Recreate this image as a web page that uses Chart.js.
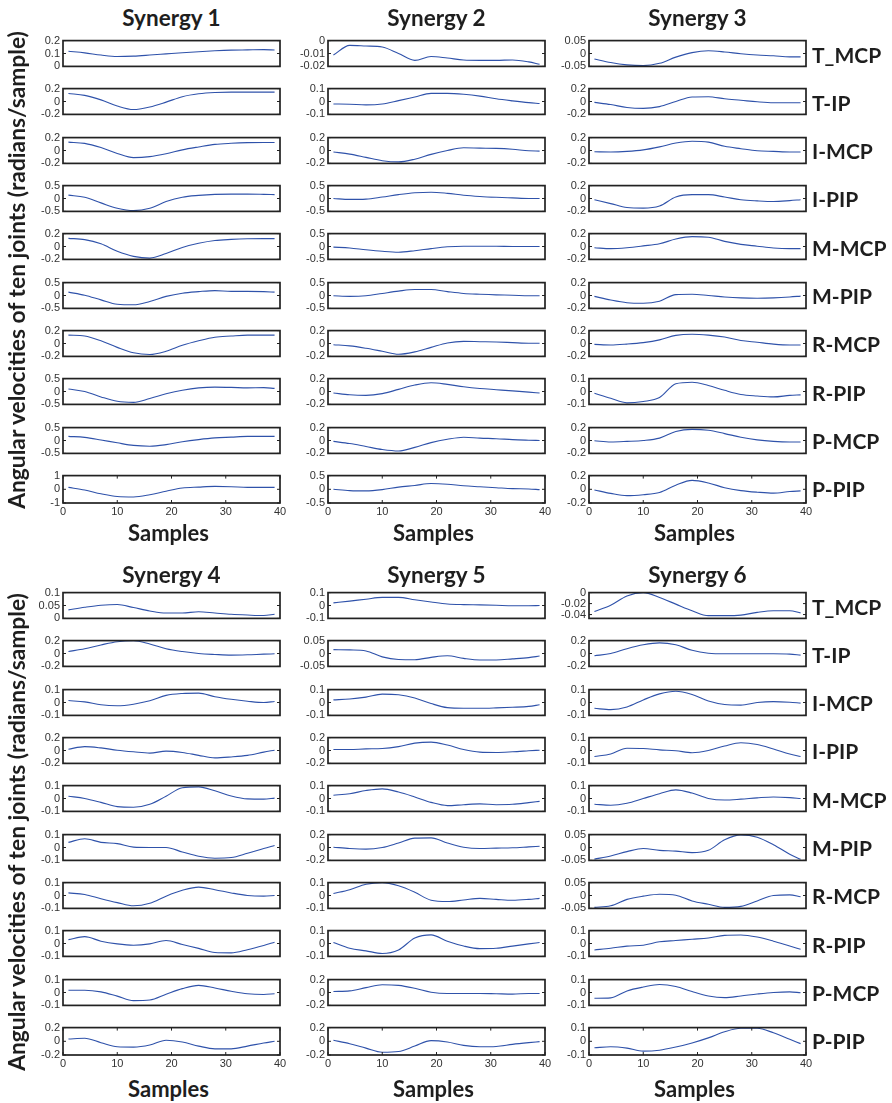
<!DOCTYPE html>
<html><head><meta charset="utf-8">
<script src="https://cdn.jsdelivr.net/npm/chart.js@4.4.1/dist/chart.umd.min.js"></script>
<style>
html,body{margin:0;padding:0;background:#fff;}
#fig{position:relative;width:892px;height:1103px;overflow:hidden;background:#fff;}
.lbl{position:absolute;font-family:Lato,'Open Sans',sans-serif;font-weight:700;color:#1e1e1e;white-space:nowrap;line-height:1;}
canvas{position:absolute;}
</style></head><body><div id="fig"></div>
<script>
// ---------- data ----------
const samples = [1,4,7,10,13,16,19,22,25,28,31,34,37,39];
const xTicks = [0,10,20,30,40];
const synergyTitles = ['Synergy 1','Synergy 2','Synergy 3','Synergy 4','Synergy 5','Synergy 6'];
const joints = ['T_MCP','T-IP','I-MCP','I-PIP','M-MCP','M-PIP','R-MCP','R-PIP','P-MCP','P-PIP'];
const xTitle = 'Samples';
const yTitle = 'Angular velocities of ten joints (radians/sample)';

const synergy1 = [
  [0.117,0.105,0.088,0.077,0.080,0.088,0.097,0.106,0.114,0.121,0.126,0.128,0.130,0.127],
  [0.125,0.095,0.025,-0.07,-0.125,-0.085,-0.01,0.075,0.12,0.14,0.145,0.145,0.145,0.145],
  [0.13,0.11,0.045,-0.045,-0.11,-0.095,-0.05,0.01,0.055,0.095,0.112,0.122,0.125,0.125],
  [0.13,0.05,-0.17,-0.38,-0.47,-0.38,-0.12,0.05,0.12,0.16,0.17,0.17,0.16,0.15],
  [0.126,0.107,0.042,-0.074,-0.153,-0.18,-0.11,-0.014,0.05,0.093,0.11,0.12,0.122,0.122],
  [0.13,0.01,-0.17,-0.34,-0.36,-0.23,-0.035,0.09,0.15,0.19,0.16,0.16,0.15,0.13],
  [0.13,0.116,0.042,-0.06,-0.144,-0.17,-0.12,-0.028,0.042,0.098,0.116,0.13,0.13,0.13],
  [0.1,0,-0.21,-0.38,-0.42,-0.27,-0.09,0.05,0.14,0.17,0.16,0.14,0.15,0.12],
  [0.16,0.12,0.02,-0.09,-0.19,-0.22,-0.16,-0.05,0.035,0.1,0.13,0.16,0.16,0.16],
  [0.14,-0.05,-0.33,-0.53,-0.56,-0.4,-0.14,0.09,0.16,0.21,0.19,0.14,0.14,0.14]
];
const synergy2 = [
  [-0.0112,-0.0037,-0.0042,-0.005,-0.010,-0.0153,-0.0123,-0.0135,-0.015,-0.0153,-0.0153,-0.015,-0.0165,-0.0184],
  [-0.019,-0.021,-0.026,-0.019,0.007,0.035,0.063,0.063,0.056,0.042,0.021,0.005,-0.009,-0.016],
  [-0.023,-0.056,-0.107,-0.158,-0.177,-0.135,-0.06,0,0.042,0.037,0.033,0.019,-0.005,-0.009],
  [0,-0.035,-0.023,0.058,0.15,0.22,0.244,0.2,0.128,0.08,0.047,0.023,0,0],
  [-0.023,-0.058,-0.128,-0.186,-0.22,-0.163,-0.081,-0.012,0.012,0.012,0.012,0,0,0],
  [-0.012,-0.035,-0.012,0.08,0.17,0.23,0.23,0.15,0.08,0.047,0.023,0.012,-0.012,-0.012],
  [-0.019,-0.037,-0.074,-0.12,-0.167,-0.13,-0.06,0.009,0.033,0.028,0.023,0.014,0.005,0.005],
  [-0.023,-0.051,-0.06,-0.033,0.033,0.1,0.135,0.11,0.074,0.047,0.028,0.009,-0.009,-0.023],
  [-0.014,-0.047,-0.093,-0.14,-0.163,-0.107,-0.033,0.019,0.051,0.037,0.028,0.014,0.005,0],
  [0,-0.047,-0.058,-0.012,0.08,0.14,0.21,0.186,0.128,0.093,0.058,0.023,0.012,-0.012]
];
const synergy3 = [
  [-0.021,-0.035,-0.044,-0.047,-0.038,-0.014,0.0035,0.0105,0.006,-0.001,-0.006,-0.009,-0.013,-0.013],
  [-0.014,-0.047,-0.093,-0.107,-0.079,0,0.07,0.074,0.042,0.019,-0.005,-0.019,-0.019,-0.019],
  [-0.019,-0.023,-0.014,0.009,0.056,0.116,0.144,0.13,0.065,0.028,-0.005,-0.014,-0.023,-0.023],
  [-0.019,-0.079,-0.14,-0.149,-0.116,0.023,0.06,0.06,0.023,-0.019,-0.037,-0.047,-0.033,-0.019],
  [-0.019,-0.033,-0.019,0.009,0.042,0.116,0.153,0.144,0.079,0.033,0.005,-0.023,-0.033,-0.033],
  [-0.014,-0.07,-0.112,-0.121,-0.088,0.014,0.019,0,-0.023,-0.037,-0.042,-0.037,-0.023,-0.009],
  [-0.014,-0.023,-0.009,0.014,0.056,0.126,0.144,0.13,0.1,0.047,0.019,-0.009,-0.023,-0.023],
  [-0.014,-0.053,-0.088,-0.077,-0.047,0.06,0.072,0.047,0.009,-0.023,-0.035,-0.042,-0.03,-0.026],
  [-0.005,-0.023,-0.014,0,0.037,0.14,0.172,0.158,0.107,0.051,0.009,-0.014,-0.023,-0.023],
  [-0.009,-0.06,-0.093,-0.079,-0.047,0.06,0.13,0.093,0.023,-0.019,-0.042,-0.056,-0.033,-0.023]
];
const synergy4 = [
  [0.033,0.043,0.051,0.054,0.042,0.029,0.021,0.021,0.026,0.021,0.016,0.013,0.011,0.016],
  [0.03,0.074,0.133,0.183,0.198,0.148,0.074,0.03,0,-0.015,-0.025,-0.02,-0.01,-0.005],
  [0.015,0.005,-0.018,-0.025,-0.013,0.013,0.055,0.07,0.073,0.045,0.025,0.01,0,0.008],
  [0.02,0.06,0.04,0.005,-0.02,-0.04,-0.01,-0.03,-0.075,-0.115,-0.1,-0.075,-0.025,0.005],
  [0.018,0,-0.03,-0.063,-0.068,-0.045,0.018,0.083,0.09,0.06,0.02,-0.003,-0.005,0.003],
  [0.04,0.068,0.04,0.03,0.003,0,0,-0.035,-0.068,-0.083,-0.078,-0.045,-0.008,0.015],
  [0.02,0.008,-0.025,-0.055,-0.08,-0.06,-0.005,0.04,0.065,0.045,0.02,0,-0.005,0],
  [0.03,0.053,0.018,-0.003,-0.013,-0.003,0.023,-0.008,-0.038,-0.07,-0.073,-0.048,-0.015,0.01],
  [0.018,0.018,0.005,-0.028,-0.063,-0.058,-0.013,0.03,0.055,0.035,0.01,-0.01,-0.015,-0.01],
  [0.034,0.044,-0.02,-0.08,-0.085,-0.055,0.015,-0.01,-0.07,-0.11,-0.11,-0.07,-0.025,0]
];
const synergy5 = [
  [0.02,0.034,0.049,0.063,0.063,0.044,0.027,0.012,0.007,0.005,0.002,-0.002,-0.002,0],
  [0.015,0.014,0.01,-0.013,-0.023,-0.024,-0.015,-0.009,-0.019,-0.025,-0.025,-0.021,-0.016,-0.01],
  [0.02,0.027,0.042,0.065,0.06,0.035,-0.008,-0.04,-0.045,-0.045,-0.042,-0.037,-0.03,-0.018],
  [0.015,0.015,0.025,0.03,0.06,0.115,0.13,0.085,0.015,-0.025,-0.03,-0.02,-0.005,0.005],
  [0.025,0.037,0.062,0.075,0.05,0.012,-0.03,-0.055,-0.048,-0.042,-0.048,-0.045,-0.032,-0.022],
  [0.005,-0.015,-0.025,0,0.07,0.145,0.15,0.07,0.005,-0.015,-0.01,-0.005,0.01,0.02],
  [0.015,0.045,0.087,0.1,0.075,0.025,-0.037,-0.047,-0.035,-0.022,-0.03,-0.037,-0.03,-0.022],
  [0.008,-0.037,-0.057,-0.077,-0.05,0.042,0.067,0.017,-0.02,-0.04,-0.037,-0.02,-0.003,0.008],
  [0.015,0.025,0.075,0.12,0.11,0.065,0.005,-0.015,-0.015,-0.015,-0.02,-0.025,-0.015,-0.015],
  [0.015,-0.035,-0.1,-0.16,-0.15,-0.07,0.01,-0.01,-0.06,-0.08,-0.075,-0.045,-0.02,-0.005]
];
const synergy6 = [
  [-0.0346,-0.023,-0.006,0,-0.009,-0.021,-0.033,-0.042,-0.042,-0.041,-0.036,-0.033,-0.033,-0.037],
  [-0.035,0,0.075,0.135,0.165,0.135,0.05,0.005,-0.005,-0.005,-0.005,-0.005,-0.01,-0.025],
  [-0.045,-0.055,-0.035,0.02,0.067,0.087,0.062,0.012,-0.015,-0.02,0,0.007,0.002,-0.005],
  [-0.047,-0.027,0.017,0.015,0.005,-0.002,-0.017,0,0.035,0.06,0.047,0.012,-0.027,-0.047],
  [-0.045,-0.052,-0.037,0,0.037,0.067,0.042,0,-0.012,-0.005,0.005,0.012,0.007,0],
  [-0.045,-0.033,-0.016,-0.004,-0.011,-0.014,-0.02,-0.011,0.03,0.049,0.04,0.011,-0.026,-0.046],
  [-0.046,-0.04,-0.015,-0.0025,0.005,0.001,-0.021,-0.034,-0.046,-0.042,-0.021,0,0.0025,-0.005],
  [-0.05,-0.037,-0.02,-0.013,0.013,0.023,0.033,0.043,0.063,0.066,0.05,0.018,-0.02,-0.045],
  [-0.045,-0.042,0.012,0.042,0.062,0.047,0.007,-0.027,-0.04,-0.027,-0.012,0,0.005,-0.002],
  [-0.047,-0.04,-0.05,-0.072,-0.065,-0.042,-0.012,0.025,0.07,0.095,0.095,0.062,0.015,-0.017]
];

// y tick labels of each subplot (first = axis min, last = axis max)
const ticks1 = [[0,0.1,0.2],[-0.2,0,0.2],[-0.2,0,0.2],[-0.5,0,0.5],[-0.2,0,0.2],[-0.5,0,0.5],[-0.2,0,0.2],[-0.5,0,0.5],[-0.5,0,0.5],[-1,0,1]];
const ticks2 = [[-0.02,-0.01,0],[-0.1,0,0.1],[-0.2,0,0.2],[-0.5,0,0.5],[-0.5,0,0.5],[-0.5,0,0.5],[-0.2,0,0.2],[-0.2,0,0.2],[-0.2,0,0.2],[-0.5,0,0.5]];
const ticks3 = [[-0.05,0,0.05],[-0.2,0,0.2],[-0.2,0,0.2],[-0.2,0,0.2],[-0.2,0,0.2],[-0.2,0,0.2],[-0.2,0,0.2],[-0.1,0,0.1],[-0.2,0,0.2],[-0.2,0,0.2]];
const ticks4 = [[0,0.05,0.1],[-0.2,0,0.2],[-0.1,0,0.1],[-0.2,0,0.2],[-0.1,0,0.1],[-0.1,0,0.1],[-0.1,0,0.1],[-0.1,0,0.1],[-0.1,0,0.1],[-0.2,0,0.2]];
const ticks5 = [[-0.1,0,0.1],[-0.05,0,0.05],[-0.1,0,0.1],[-0.2,0,0.2],[-0.1,0,0.1],[-0.2,0,0.2],[-0.1,0,0.1],[-0.1,0,0.1],[-0.2,0,0.2],[-0.2,0,0.2]];
const ticks6 = [[-0.04,-0.02,0],[-0.2,0,0.2],[-0.1,0,0.1],[-0.1,0,0.1],[-0.1,0,0.1],[-0.05,0,0.05],[-0.05,0,0.05],[-0.1,0,0.1],[-0.1,0,0.1],[-0.1,0,0.1]];
// axis limit where it differs from the outer tick labels: [synergy, row, min, max]
const limitOverrides = [[6, 1, -0.047, 0]];

// ---------- layout ----------
const allSeries = [synergy1, synergy2, synergy3, synergy4, synergy5, synergy6];
const allTicks = [ticks1, ticks2, ticks3, ticks4, ticks5, ticks6];
const GROUP_TOP = [39, 591];
const PITCH = 48.33, PLOT_H = 29, PLOT_W = 217;
const COL_LEFT = [63, 328, 589];
const YAXW = 50, PADT = 8, PADR = 14;
const TITLE_Y = [18, 575], XLABEL_Y = [533, 1089], YLABEL_Y = [270, 832];
const LINE = '#2f52aa', FRAME = '#222222', TICKC = '#333333';
const TICKFONT = "'Liberation Sans', Arial, sans-serif";
const fig = document.getElementById('fig');

function fmt(v){ return String(Number(v.toFixed(4))); }

const framePlugin = {
  id: 'frame',
  afterDraw(chart, args, opts){
    const {ctx, chartArea: a, scales: {x, y}} = chart;
    ctx.save();
    ctx.strokeStyle = FRAME;
    ctx.lineWidth = 1;
    ctx.beginPath();
    y.ticks.forEach(t => {
      const py = y.getPixelForValue(t.value);
      ctx.moveTo(a.left, py); ctx.lineTo(a.left + 3, py);
      ctx.moveTo(a.right, py); ctx.lineTo(a.right - 3, py);
    });
    if (opts.xTicks) x.ticks.forEach(t => {
      const px = x.getPixelForValue(t.value);
      ctx.moveTo(px, a.bottom); ctx.lineTo(px, a.bottom - 3);
      ctx.moveTo(px, a.top); ctx.lineTo(px, a.top + 3);
    });
    ctx.stroke();
    ctx.lineWidth = 1.7;
    ctx.strokeRect(a.left, a.top, a.right - a.left, a.bottom - a.top);
    ctx.restore();
  }
};

function addLabel(text, cx, cy, size, extra){
  const d = document.createElement('div');
  d.className = 'lbl';
  d.textContent = text;
  d.style.fontSize = size + 'px';
  d.style.left = cx + 'px';
  d.style.top = cy + 'px';
  d.style.transform = extra || 'translate(-50%,-50%)';
  fig.appendChild(d);
  return d;
}

for (let s = 0; s < 6; s++) {
  const g = Math.floor(s / 3), c = s % 3;
  const left = COL_LEFT[c];
  for (let r = 0; r < 10; r++) {
    const top = GROUP_TOP[g] + PITCH * r;
    const bottomRow = r === 9;
    const xh = bottomRow ? 20 : 8;
    const cv = document.createElement('canvas');
    const w = YAXW + PLOT_W + PADR, h = PADT + PLOT_H + xh;
    cv.width = w; cv.height = h;
    cv.style.width = w + 'px'; cv.style.height = h + 'px';
    cv.style.left = (left - YAXW) + 'px';
    cv.style.top = (top - PADT) + 'px';
    fig.appendChild(cv);
    const tk = allTicks[s][r];
    let ymin = tk[0], ymax = tk[tk.length - 1];
    limitOverrides.forEach(o => { if (o[0] === s + 1 && o[1] === r + 1) { ymin = o[2]; ymax = o[3]; } });
    const vals = allSeries[s][r];
    new Chart(cv, {
      type: 'line',
      data: { datasets: [{
        data: samples.map((x, i) => ({x: x, y: vals[i]})),
        borderColor: LINE, borderWidth: 1.1, pointRadius: 0, fill: false,
        cubicInterpolationMode: 'monotone'
      }]},
      options: {
        responsive: false, animation: false, devicePixelRatio: 1,
        layout: { padding: { top: PADT, right: PADR, left: 0, bottom: 0 } },
        plugins: { legend: {display: false}, tooltip: {enabled: false}, frame: {xTicks: bottomRow} },
        scales: {
          x: {
            type: 'linear', min: 0, max: 40,
            grid: {display: false, drawTicks: false}, border: {display: false},
            afterBuildTicks: sc => { sc.ticks = xTicks.map(v => ({value: v})); },
            ticks: { display: bottomRow, autoSkip: false, maxRotation: 0, padding: 2,
                     color: TICKC, font: {family: TICKFONT, size: 11},
                     callback: v => fmt(v) },
            afterFit: sc => { sc.height = xh; }
          },
          y: {
            type: 'linear', min: ymin, max: ymax,
            grid: {display: false, drawTicks: false}, border: {display: false},
            afterBuildTicks: sc => { sc.ticks = tk.map(v => ({value: v})); },
            ticks: { autoSkip: false, padding: 3, color: TICKC,
                     font: {family: TICKFONT, size: 11},
                     callback: v => fmt(v) },
            afterFit: sc => { sc.width = YAXW; }
          }
        }
      },
      plugins: [framePlugin]
    });
    if (c === 2) addLabel(joints[r], left + PLOT_W + 6, top + PLOT_H / 2, 21, 'translate(0,-50%)');
  }
  addLabel(synergyTitles[s], left + PLOT_W / 2, TITLE_Y[g], 22.5);
  addLabel(xTitle, left + PLOT_W / 2 - 3, XLABEL_Y[g], 22);
}
for (let g = 0; g < 2; g++) {
  const d = addLabel(yTitle, 17, YLABEL_Y[g], 20, 'translate(-50%,-50%) rotate(-90deg)');
  const wNow = d.getBoundingClientRect().height;
  const target = 478;
  d.style.fontSize = (20 * target / wNow).toFixed(2) + 'px';
}
</script></body></html>
